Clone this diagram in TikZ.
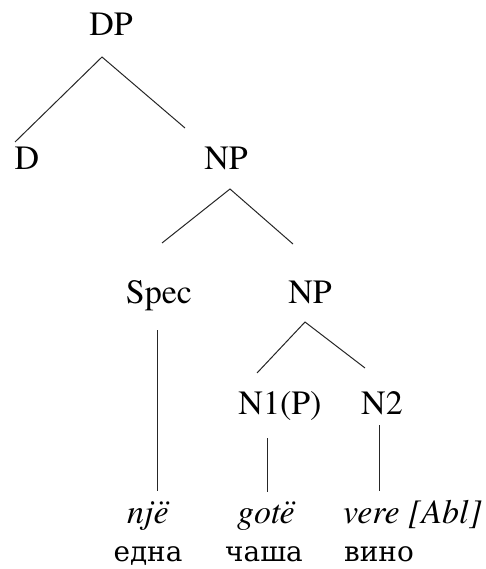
\documentclass[tikz,border=0pt]{standalone}
\usepackage{fontspec}
\setmainfont{TeX Gyre Termes}
\newfontfamily\cyrfont[Script=Cyrillic,Scale=0.82]{DejaVu Serif}
\begin{document}
\begin{tikzpicture}[x=1pt,y=-1pt,
  lbl/.style={inner sep=0pt,anchor=base,font=\fontsize{34}{40}\selectfont},
  gloss/.style={lbl,font=\fontsize{34}{40}\selectfont\itshape},
  cyr/.style={lbl,font=\fontsize{34}{40}\selectfont\cyrfont},
  branch/.style={line width=1pt,draw=black!85}]
\useasboundingbox (0,0) rectangle (486,569);

% category labels
\node[lbl] (DP)   at (111,36)  {DP};
\node[lbl] (D)    at (27,170)  {D};
\node[lbl] (NPa)  at (226,170) {NP};
\node[lbl] (Spec) at (159,303) {Spec};
\node[lbl] (NPb)  at (310,303) {NP};
\node[lbl] (N1)   at (280,414) {N1(P)};
\node[lbl] (N2)   at (382,414) {N2};

% lexical items: Albanian (italic) over Macedonian
\node[gloss] (nje)  at (148,523) {një};
\node[gloss] (gote) at (266,523) {gotë};
\node[gloss,anchor=base west] (vere) at (343,523) {vere [Abl]};
\node[cyr] (edna) at (148,561) {една};
\node[cyr] (casa) at (264,561) {чаша};
\node[cyr,anchor=base west] (vino) at (344,561) {вино};

% branch points
\coordinate (dpT) at (102,57);  \coordinate (dpL) at (15,142);  \coordinate (dpR) at (185,128);
\coordinate (naT) at (230,189); \coordinate (naL) at (162,243); \coordinate (naR) at (293,244);
\coordinate (nbT) at (305,322); \coordinate (nbL) at (257,373); \coordinate (nbR) at (365,368);
\coordinate (spT) at (157,330); \coordinate (spB) at (157,491);
\coordinate (n1T) at (267,438); \coordinate (n1B) at (267,492);
\coordinate (n2T) at (379,425); \coordinate (n2B) at (379,491);

% branches
\draw[branch] (dpL) -- (dpT) -- (dpR);
\draw[branch] (naL) -- (naT) -- (naR);
\draw[branch] (nbL) -- (nbT) -- (nbR);
\draw[branch] (spT) -- (spB);
\draw[branch] (n1T) -- (n1B);
\draw[branch] (n2T) -- (n2B);
\end{tikzpicture}
\end{document}
